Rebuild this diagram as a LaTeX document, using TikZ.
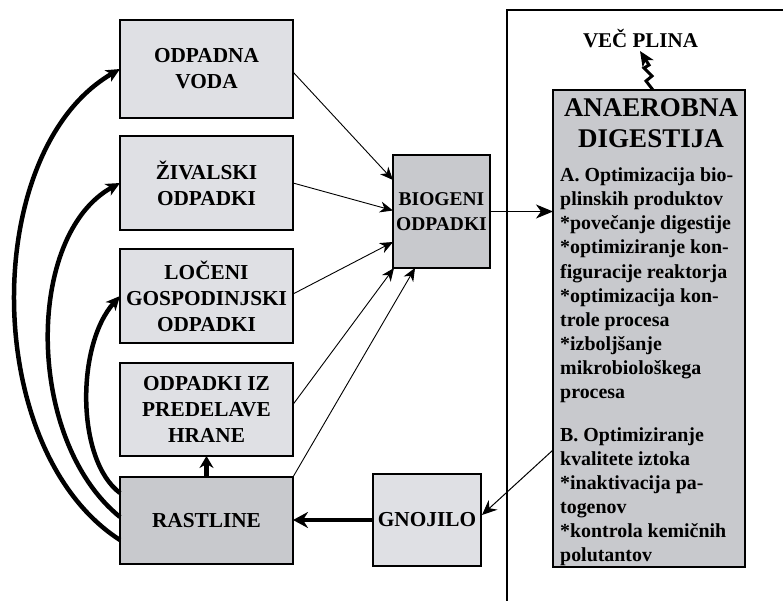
\documentclass[tikz,border=0pt]{standalone}
\usepackage{fontspec}
\setmainfont{Liberation Serif}
\usetikzlibrary{arrows.meta}
\definecolor{lightbox}{HTML}{DFE0E4}
\definecolor{darkbox}{HTML}{C8C9CD}
\begin{document}
\begin{tikzpicture}[x=1pt,y=-1pt,
  box/.style={draw=black, line width=2.6pt, fill=lightbox, inner sep=0pt, outer sep=0pt,
    align=center, font=\fontsize{21.3}{26}\selectfont\bfseries},
  darkb/.style={box, fill=darkbox},
  thinarr/.style={line width=0.9pt, -{Stealth[length=13pt,width=11pt,inset=4pt]}},
  thickarr/.style={line width=4.8pt, -{Stealth[length=15pt,width=16pt,inset=5pt]}},
  curvarr/.style={line width=4.5pt, -{Stealth[length=14pt,width=13pt,inset=4pt]}},
  bodytxt/.style={anchor=base west, inner sep=0pt, font=\fontsize{19.9}{23.5}\selectfont\bfseries}
]
\useasboundingbox (0,0) rectangle (783,601);

% outer frame
\coordinate (fb) at (507,605);
\coordinate (ft) at (507,10);
\coordinate (fr) at (790,10);
\draw[line width=2.5pt] (fb) -- (ft) -- (fr);

% left boxes
\node[box, minimum width=173pt, minimum height=98pt] (vod) at (206.5,69) {ODPADNA\\VODA};
\node[box, minimum width=173pt, minimum height=94pt] (ziv) at (206.5,183) {ŽIVALSKI\\ODPADKI};
\node[box, minimum width=173pt, minimum height=94pt] (loc) at (206.5,296) {LOČENI\\GOSPODINJSKI\\ODPADKI};
\node[box, minimum width=173pt, minimum height=93pt] (pre) at (206.5,409.5) {ODPADKI IZ\\PREDELAVE\\HRANE};
\node[darkb, minimum width=173pt, minimum height=87pt] (ras) at (206.5,520.5) {RASTLINE};
\node[box, minimum width=108pt, minimum height=92pt] (gno) at (427,520) {GNOJILO};
\node[darkb, minimum width=97pt, minimum height=113pt, font=\fontsize{19.5}{25}\selectfont\bfseries] (bio) at (441.5,211.5) {BIOGENI\\ODPADKI};

% anaerobic digestion box
\node[darkb, minimum width=192pt, minimum height=477pt] (ana) at (649,328.5) {};
\node[inner sep=0pt, font=\fontsize{27}{31}\selectfont\bfseries, anchor=base] (anat1) at (651,117) {ANAEROBNA};
\node[inner sep=0pt, font=\fontsize{27}{31}\selectfont\bfseries, anchor=base] (anat2) at (651,148) {DIGESTIJA};

\foreach \yy/\tt [count=\i] in {
  182/A. Optimizacija bio-,
  206/plinskih produktov,
  230/*povečanje digestije,
  254/*optimiziranje kon-,
  278/figuracije reaktorja,
  302/*optimizacija kon-,
  326/trole procesa,
  350/*izboljšanje,
  374/mikrobiološkega,
  398/procesa,
  441/B. Optimiziranje,
  465/kvalitete iztoka,
  489/*inaktivacija pa-,
  513/togenov,
  537/*kontrola kemičnih,
  561/polutantov}
  \node[bodytxt] (line\i) at (560,\yy) {\tt};

% gas output
\node[inner sep=0pt, font=\fontsize{21}{24}\selectfont\bfseries] (gas) at (640.5,38.5) {VEČ PLINA};
\coordinate (gastip) at (640,51);
\draw[line width=3pt, line join=miter, -{Stealth[length=15pt,width=13pt,inset=4pt]}]
  ([xshift=4pt]ana.north) -- ++(-7,-9) -- ++(6,-5) -- ++(-8,-8) -- ++(5,-3) -- (gastip);

% thin arrows into BIOGENI
\draw[thinarr] ([yshift=-3pt]vod.east) -- ([yshift=31.5pt]bio.west);
\draw[thinarr] (ziv.east) -- ([yshift=1pt]bio.west);
\draw[thinarr] ([yshift=2pt]loc.east) -- ([yshift=-30.5pt]bio.west);
\draw[thinarr] ([yshift=5pt]pre.east) -- ([xshift=1pt]bio.south west);
\draw[thinarr] (ras.north east) -- ([xshift=22pt]bio.south west);

% BIOGENI -> ANAEROBNA
\draw[line width=1pt, -{Stealth[length=17pt,width=14pt,inset=5pt]}] (bio.east) -- (ana.west |- bio.east);

% ANAEROBNA -> GNOJILO
\draw[line width=1pt, -{Stealth[length=15pt,width=13pt,inset=5pt]}] ([yshift=-121.5pt]ana.west) -- ([xshift=1pt,yshift=5pt]gno.east);

% GNOJILO -> RASTLINE
\draw[thickarr] (gno.west) -- (ras.east |- gno.west);

% RASTLINE -> PREDELAVE
\draw[line width=4.5pt, -{Stealth[length=12pt,width=14pt,inset=4pt]}] (ras.north) -- (pre.south);

% curved arrows from RASTLINE
\draw[curvarr] ([yshift=-19.5pt]ras.west) .. controls (-20,450) and (-20,150) .. (vod.west);
\draw[curvarr] ([yshift=3.5pt]ras.west) .. controls (25,440) and (25,235) .. (ziv.west);
\draw[curvarr] ([yshift=27.5pt]ras.west) .. controls (76,460) and (76,345) .. (loc.west);
\end{tikzpicture}
\end{document}
